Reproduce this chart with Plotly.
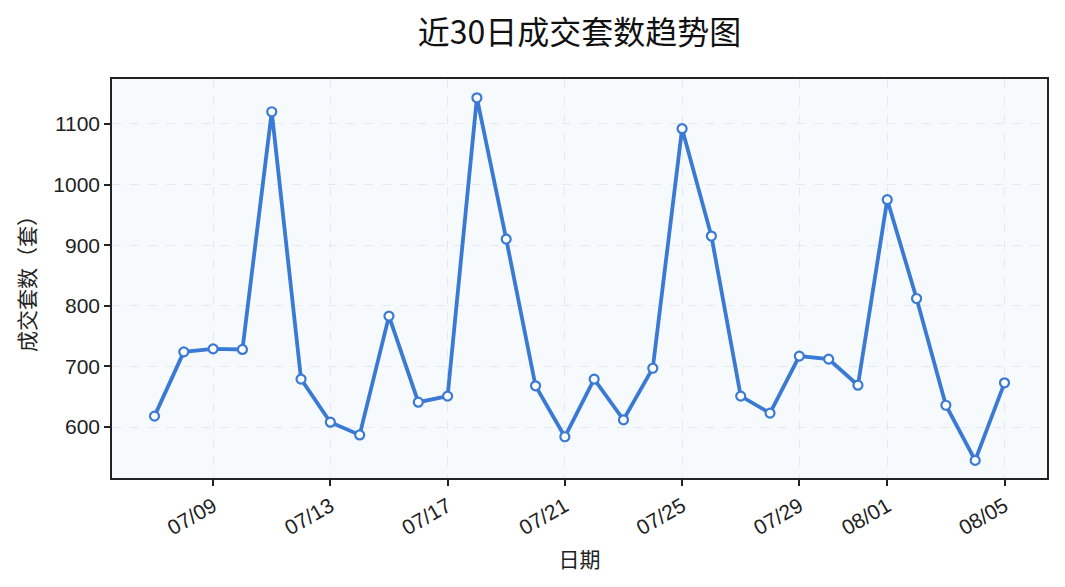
import plotly.graph_objects as go
import pandas as pd

dates = pd.date_range("2024-07-07", "2024-08-05", freq="D").strftime("%Y-%m-%d").tolist()
values = [618, 724, 729, 728, 1120, 679, 608, 587, 783, 641,
          651, 1143, 910, 668, 584, 679, 612, 697, 1092, 915,
          651, 623, 717, 712, 669, 975, 812, 636, 545, 673]
tick_dates = ["2024-07-09", "2024-07-13", "2024-07-17", "2024-07-21",
              "2024-07-25", "2024-07-29", "2024-08-01", "2024-08-05"]
tick_labels = ["07/09", "07/13", "07/17", "07/21", "07/25", "07/29", "08/01", "08/05"]
y_ticks = [600, 700, 800, 900, 1000, 1100]

font_main = "Liberation Sans, Noto Sans CJK SC, sans-serif"
cjk = "Noto Sans CJK SC, sans-serif"

fig = go.Figure()
fig.add_trace(go.Scatter(
    x=dates, y=values, mode="lines+markers",
    line=dict(color="#3a7ad5", width=3.8),
    marker=dict(size=9, color="white", line=dict(color="#3a7ad5", width=2.2)),
    showlegend=False,
))

x0 = pd.Timestamp("2024-07-07") - pd.Timedelta(hours=34.8)
x1 = pd.Timestamp("2024-08-05") + pd.Timedelta(hours=34.8)

fig.update_layout(
    width=1049, height=571,
    margin=dict(l=104, r=8, t=71, b=101),
    paper_bgcolor="white",
    plot_bgcolor="#f7fafd",
    title=dict(text="近30日成交套数趋势图", x=0.5, xref="paper", xanchor="center",
               y=1 - 25 / 571, yref="container", yanchor="middle",
               font=dict(family=cjk, size=32, color="#111111")),
    font=dict(family=font_main, color="#222222"),
)
fig.update_xaxes(
    type="date", range=[x0, x1],
    tickvals=tick_dates, ticktext=tick_labels, tickangle=-30,
    tickfont=dict(size=21, family=font_main, color="#222222"),
    ticks="outside", ticklen=6, tickwidth=1.5, tickcolor="#222222",
    showline=True, linecolor="#222222", linewidth=1.5, mirror=True,
    showgrid=True, gridcolor="#e3e9f0", griddash="dash", gridwidth=1,
    zeroline=False,
    title=dict(text="日期", font=dict(family=cjk, size=21, color="#222222"), standoff=14),
)
fig.update_yaxes(
    range=[516, 1174], tickvals=y_ticks,
    tickfont=dict(size=21, family=font_main, color="#222222"),
    ticks="outside", ticklen=6, tickwidth=1.5, tickcolor="#222222",
    showline=True, linecolor="#222222", linewidth=1.5, mirror=True,
    showgrid=True, gridcolor="#e3e9f0", griddash="dash", gridwidth=1,
    zeroline=False,
    title=dict(text="成交套数（套）", font=dict(family=cjk, size=21, color="#222222"), standoff=12),
)

fig.write_html("out.html")
